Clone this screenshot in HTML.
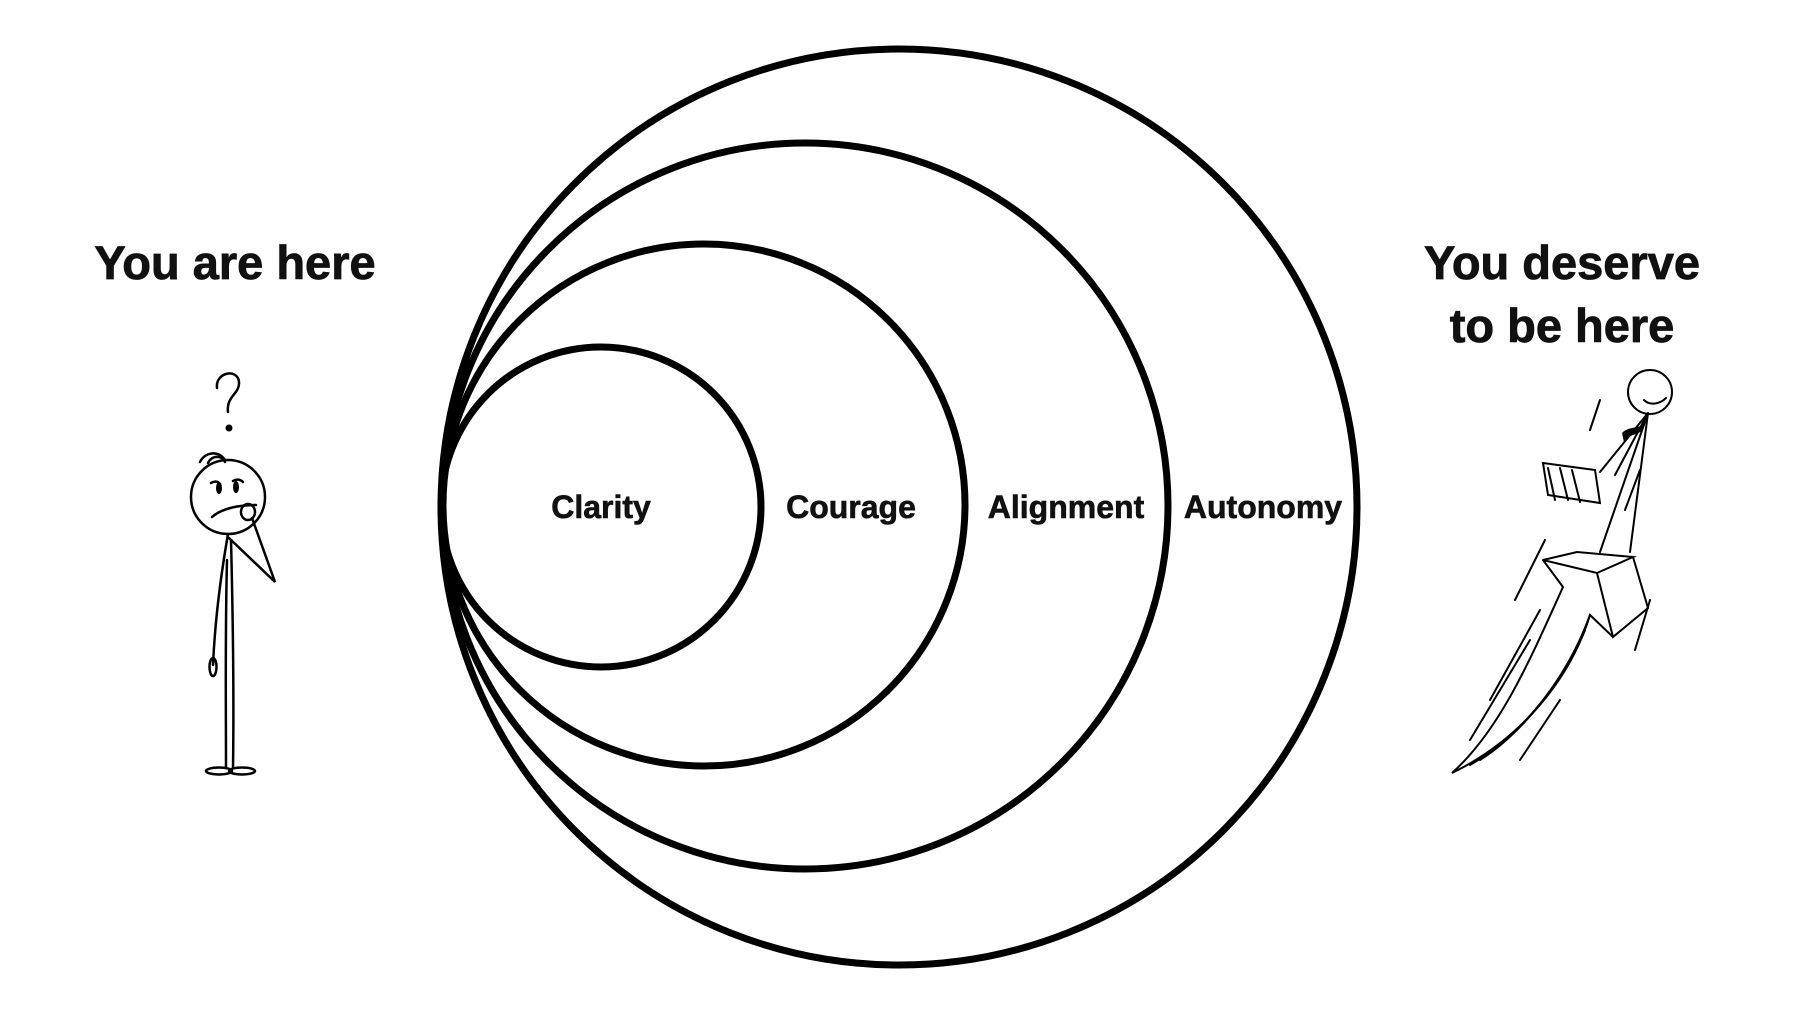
<!DOCTYPE html>
<html><head><meta charset="utf-8"><style>
html,body{margin:0;padding:0;background:#fff;}
svg{display:block;}
text{font-family:"Liberation Sans",sans-serif;font-weight:bold;fill:#111;}
</style></head><body>
<svg width="1799" height="1012" viewBox="0 0 1799 1012" xmlns="http://www.w3.org/2000/svg">
<g fill="none" stroke="#000" stroke-width="7">
<circle cx="899" cy="507" r="458"/>
<circle cx="805" cy="506" r="363"/>
<circle cx="704" cy="505" r="261"/>
<circle cx="601" cy="507" r="160"/>
</g>
<g font-size="32" text-anchor="middle" stroke="#111" stroke-width="0.6">
<text x="601" y="518">Clarity</text>
<text x="851" y="518">Courage</text>
<text x="1066" y="518">Alignment</text>
<text x="1263" y="518">Autonomy</text>
</g>
<g font-size="47" text-anchor="middle" stroke="#111" stroke-width="0.8">
<text x="235" y="279">You are here</text>
<text x="1562" y="279">You deserve</text>
<text x="1562" y="342">to be here</text>
</g>
<!-- left figure -->
<g fill="none" stroke="#000" stroke-width="2.5" stroke-linecap="round">
<path d="M217,388 C215,372 238,368 239,382 C240,394 226,396 228,412"/>
<circle cx="228" cy="497" r="37"/>
<path d="M200,462 C205,452 218,450 225,460"/>
<path d="M208,463 C212,455 222,455 225,462"/>
<path d="M211,483 C214,481 218,481 220,484"/><path d="M233,481 C236,479 240,479 243,482"/>
<path d="M212,517 C222,508 240,505 256,505"/>
<ellipse cx="248" cy="512" rx="7" ry="8"/>
<path d="M252,518 L275,582 L229,538"/>
<path d="M228,534 C220,580 215,620 213,665 M231,540 C233,620 234,700 233,768 M227,560 C225,640 226,700 226,768"/>
<ellipse cx="213" cy="667" rx="3.5" ry="9"/>
<ellipse cx="219" cy="771" rx="13" ry="3.5"/><ellipse cx="242" cy="771" rx="13" ry="3.5"/>
</g>
<circle cx="229" cy="428" r="3.5"/>
<ellipse cx="219" cy="488" rx="3" ry="6"/><ellipse cx="236" cy="487" rx="3" ry="6"/>
<!-- right figure -->
<g fill="none" stroke="#000" stroke-width="2" stroke-linecap="round">
<circle cx="1650" cy="392" r="22"/>
<path d="M1644,400 C1650,406 1660,404 1666,398"/>
<path d="M1648,413 L1600,472 M1648,413 L1615,475 M1648,413 L1600,552 M1648,413 L1630,552"/>
<path d="M1543,463 L1595,470 L1600,503 L1548,495 Z M1548,468 L1555,500 M1560,468 L1568,500 M1572,470 L1580,502"/>
<path d="M1543,560 L1577,552 L1633,557 L1597,573 Z M1597,573 L1613,637 L1648,608 L1633,557 M1543,560 L1563,587 C1530,660 1500,730 1452,773 C1520,740 1570,680 1590,615 L1613,637"/>
<path d="M1590,615 C1570,670 1530,730 1470,765 M1585,630 C1565,680 1520,735 1480,760"/>
<path d="M1470,740 L1530,640 M1490,700 L1540,610 M1515,600 L1545,540 M1600,400 L1590,430 M1640,470 L1625,510 M1650,600 L1635,650 M1560,700 L1520,760"/>
</g>
<path d="M1622,433 C1630,425 1640,430 1646,422 L1643,430 C1636,436 1628,434 1624,442 Z"/>
</svg>
</body></html>
